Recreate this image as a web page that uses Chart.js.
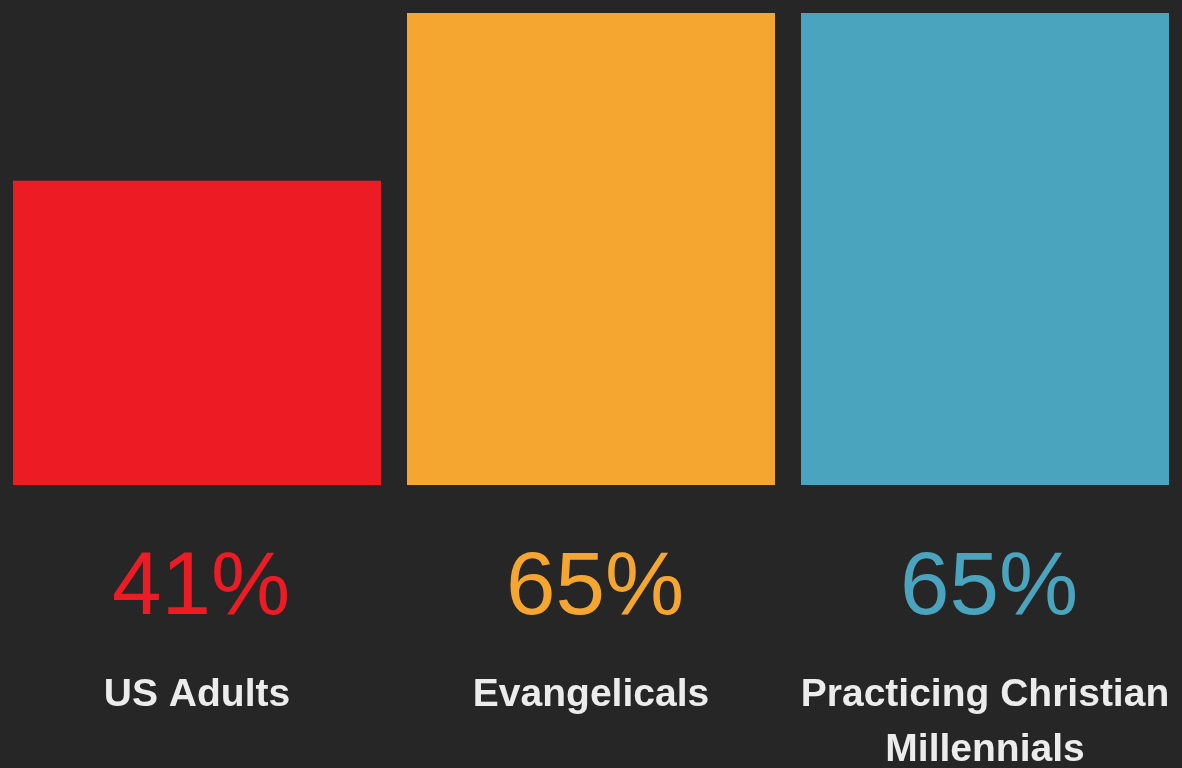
<!DOCTYPE html>
<html>
<head>
<meta charset="utf-8">
<script src="https://cdn.jsdelivr.net/npm/chart.js@4/dist/chart.umd.min.js"></script>
<style>
  html, body { margin: 0; padding: 0; background: #262626; }
  #wrap { width: 1182px; height: 768px; position: relative; }
</style>
</head>
<body>
<div id="wrap"><canvas id="barChart"></canvas></div>
<script>
// Dados do gráfico
const categories = [['US Adults'], ['Evangelicals'], ['Practicing Christian', 'Millennials']];
const values = [41, 65, 65];
const barColors = ['#ED1C24', '#F5A631', '#4AA4BE'];
const valueLabels = ['41%', '65%', '65%'];
const yMin = -2.5;
const yMax = 65;

// Percentuais desenhados abaixo de cada barra
const valueLabelPlugin = {
    id: 'valueLabels',
    afterDatasetsDraw(chart) {
        const ctx = chart.ctx;
        const meta = chart.getDatasetMeta(0);
        ctx.save();
        ctx.font = '89px "Liberation Sans", Arial, sans-serif';
        ctx.textAlign = 'center';
        ctx.textBaseline = 'middle';
        meta.data.forEach((bar, i) => {
            ctx.fillStyle = barColors[i];
            ctx.fillText(valueLabels[i], bar.x + 4, chart.chartArea.bottom + 104);
        });
        ctx.restore();
    }
};

const ctx = document.getElementById('barChart').getContext('2d');
new Chart(ctx, {
    type: 'bar',
    data: {
        labels: categories,
        datasets: [{
            data: values,
            backgroundColor: barColors,
            borderWidth: 0,
            base: yMin,
            barPercentage: 0.934,
            categoryPercentage: 1
        }]
    },
    options: {
        responsive: true,
        maintainAspectRatio: false,
        animation: false,
        layout: { padding: { top: 13, left: 0, right: 0, bottom: 0 } },
        plugins: {
            legend: { display: false },
            tooltip: { enabled: false }
        },
        scales: {
            x: {
                grid: { display: false, drawTicks: true, tickLength: 180 },
                border: { display: false },
                ticks: {
                    color: '#ececec',
                    padding: 3,
                    autoSkip: false,
                    maxRotation: 0,
                    font: { family: '"Liberation Sans", Arial, sans-serif', size: 39, weight: 'bold', lineHeight: '55px' }
                },
                afterFit: (scale) => { scale.height = 283; }
            },
            y: {
                display: false,
                min: yMin,
                max: yMax
            }
        }
    },
    plugins: [valueLabelPlugin]
});
</script>
</body>
</html>
